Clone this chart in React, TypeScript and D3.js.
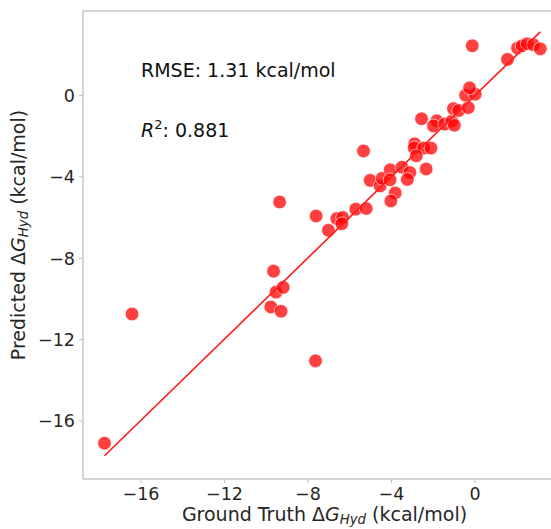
import React from "react";
import * as d3 from "d3";

// Ground truth hydration free energies (kcal/mol)
const truth: number[] = [
  -17.75, -16.43, -9.65, -9.53, -9.19, -9.78, -9.29, -7.64, -9.36, -7.61,
  -7.02, -6.62, -6.34, -6.38, -5.71, -5.21, -5.34, -5.02, -4.54, -4.45,
  -4.06, -4.07, -3.82, -4.03, -3.5, -3.12, -3.24, -2.34, -2.89, -2.91,
  -2.46, -2.11, -2.81, -2.56, -1.83, -1.99, -1.45, -1.11, -0.99, -1.03,
  -0.78, -0.32, -0.45, 0.01, -0.26, -0.13, 1.56, 2.04, 2.26, 2.5,
  2.8, 3.13,
];
// Predicted hydration free energies (kcal/mol)
const predicted: number[] = [
  -17.09, -10.74, -8.63, -9.66, -9.43, -10.39, -10.6, -13.04, -5.23, -5.92,
  -6.62, -6.05, -5.99, -6.3, -5.58, -5.55, -2.72, -4.17, -4.44, -4.07,
  -3.65, -4.14, -4.79, -5.18, -3.52, -3.78, -4.12, -3.61, -2.37, -2.57,
  -2.58, -2.58, -2.96, -1.14, -1.24, -1.49, -1.4, -1.26, -1.46, -0.64,
  -0.73, -0.59, 0.02, 0.07, 0.38, 2.45, 1.78, 2.34, 2.45, 2.55,
  2.5, 2.3,
];
const xTicks: number[] = [-16, -12, -8, -4, 0];
const yTicks: number[] = [-16, -12, -8, -4, 0];
const fitSlope = 0.998;
const fitIntercept = 0.01;
const rmseText = "RMSE: 1.31 kcal/mol";
const r2Value = "0.881";

const W = 551;
const H = 529;
const left = 83;
const right = 562;
const top = 11;
const bottom = 479;

export default function App() {
  const x = d3.scaleLinear().domain([-18.78, 4.17]).range([left, right]);
  const y = d3.scaleLinear().domain([-18.85, 4.16]).range([bottom, top]);
  const textColor = "#262626";
  const frameColor = "#bdbdbd";
  const font = "DejaVu Sans";
  const xMin = d3.min(truth) as number;
  const xMax = d3.max(truth) as number;
  const line = d3
    .line<number>()
    .x((d) => x(d))
    .y((d) => y(fitSlope * d + fitIntercept));
  const pts = truth.map((t, i) => ({ t, p: predicted[i] }));
  const fmt = (t: number) => (t < 0 ? "\u2212" + Math.abs(t) : String(t));

  return (
    <svg
      width={W}
      height={H}
      style={{ position: "absolute", left: 0, top: 0, background: "#fff" }}
      fontFamily={font}
    >
      <defs>
        <clipPath id="plotclip">
          <rect x={left} y={top} width={right - left} height={bottom - top} />
        </clipPath>
      </defs>
      <rect x={0} y={0} width={W} height={H} fill="#fff" />
      <rect
        x={left}
        y={top}
        width={right - left}
        height={bottom - top}
        fill="none"
        stroke={frameColor}
        strokeWidth={1.25}
      />
      {xTicks.map((t) => (
        <g key={"x" + t}>
          <line x1={x(t)} x2={x(t)} y1={bottom} y2={bottom + 4} stroke={frameColor} strokeWidth={1} />
          <text x={x(t)} y={bottom + 21} textAnchor="middle" fontSize={17.5} fill={textColor}>
            {fmt(t)}
          </text>
        </g>
      ))}
      {yTicks.map((t) => (
        <g key={"y" + t}>
          <line x1={left - 4} x2={left} y1={y(t)} y2={y(t)} stroke={frameColor} strokeWidth={1} />
          <text x={left - 8} y={y(t)} dy="0.36em" textAnchor="end" fontSize={17.5} fill={textColor}>
            {fmt(t)}
          </text>
        </g>
      ))}
      <text x={324.5} y={521} textAnchor="middle" fontSize={19} fill={textColor}>
        Ground Truth Δ
        <tspan fontStyle="italic">G</tspan>
        <tspan fontStyle="italic" fontSize={13.3} dy={3}>Hyd</tspan>
        <tspan dy={-3}> (kcal/mol)</tspan>
      </text>
      <text
        transform={`translate(25, 235) rotate(-90)`}
        textAnchor="middle"
        fontSize={19}
        fill={textColor}
      >
        Predicted Δ
        <tspan fontStyle="italic">G</tspan>
        <tspan fontStyle="italic" fontSize={13.3} dy={3}>Hyd</tspan>
        <tspan dy={-3}> (kcal/mol)</tspan>
      </text>
      <text x={141} y={77} fontSize={19} fill="#111">
        {rmseText}
      </text>
      <text x={141} y={137} fontSize={19} fill="#111">
        <tspan fontStyle="italic">R</tspan>
        <tspan fontSize={13} dy={-8}>2</tspan>
        <tspan dy={8}>: {r2Value}</tspan>
      </text>
      <g clipPath="url(#plotclip)">
        {pts.map((d, i) => (
          <circle
            key={i}
            cx={x(d.t)}
            cy={y(d.p)}
            r={6.8}
            fill="#ff0000"
            fillOpacity={0.75}
            stroke="#ffffff"
            strokeOpacity={0.6}
            strokeWidth={1}
          />
        ))}
        <path d={line([xMin, xMax]) || ""} fill="none" stroke="#ff1a1a" strokeWidth={1.6} />
      </g>
    </svg>
  );
}
